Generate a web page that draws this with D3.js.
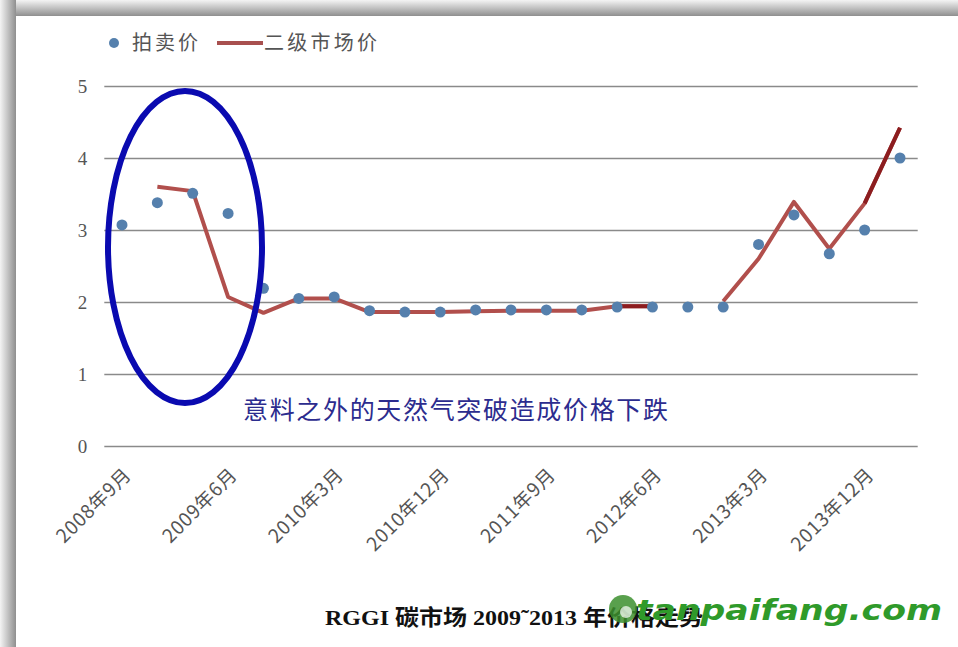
<!DOCTYPE html>
<html>
<head>
<meta charset="utf-8">
<script src="https://cdn.jsdelivr.net/npm/d3@7"></script>
<style>
  body { margin: 0; background: #fff; }
  svg { display: block; }
</style>
</head>
<body>
<div id="chart"></div>
<script>
let width = 958;
let height = 647;

// quarterly auction dates
const dates = [
  "2008年9月", "2008年12月", "2009年3月", "2009年6月", "2009年9月", "2009年12月",
  "2010年3月", "2010年6月", "2010年9月", "2010年12月", "2011年3月", "2011年6月",
  "2011年9月", "2011年12月", "2012年3月", "2012年6月", "2012年9月", "2012年12月",
  "2013年3月", "2013年6月", "2013年9月", "2013年12月", "2014年3月"
];
const tickLabels = ["2008年9月", "2009年6月", "2010年3月", "2010年12月",
  "2011年9月", "2012年6月", "2013年3月", "2013年12月"];

// 拍卖价
const auction = [3.07, 3.38, 3.51, 3.23, 2.19, 2.05, 2.07, 1.88, 1.86, 1.86, 1.89, 1.89,
  1.89, 1.89, 1.93, 1.93, 1.93, 1.93, 2.80, 3.21, 2.67, 3.00, 4.00];
// 二级市场价 (null = no value)
const secondary = [null, 3.60, 3.54, 2.07, 1.85, 2.05, 2.05, 1.86, 1.86, 1.86, 1.87, 1.88,
  1.88, 1.88, 1.94, 1.94, null, 2.01, 2.60, 3.39, 2.74, 3.37, 4.42];
// segments drawn darker in the picture (index pairs)
const darkSegments = [[14, 15], [21, 22]];

const yTicks = [0, 1, 2, 3, 4, 5];

let svg = d3.select("#chart").append("svg")
  .attr("width", width)
  .attr("height", height);

// frame shadow on the left and top edges
let defs = svg.append("defs");
let gl = defs.append("linearGradient").attr("id", "shadeL").attr("x1", 0).attr("x2", 1).attr("y1", 0).attr("y2", 0);
gl.append("stop").attr("offset", "0%").attr("stop-color", "#f4f4f4");
gl.append("stop").attr("offset", "100%").attr("stop-color", "#8f8f8f");
let gt = defs.append("linearGradient").attr("id", "shadeT").attr("x1", 0).attr("x2", 0).attr("y1", 0).attr("y2", 1);
gt.append("stop").attr("offset", "0%").attr("stop-color", "#f4f4f4");
gt.append("stop").attr("offset", "100%").attr("stop-color", "#8f8f8f");

svg.append("rect").attr("width", width).attr("height", height).attr("fill", "#fff");
svg.append("rect").attr("x", 0).attr("y", 0).attr("width", width).attr("height", 16).attr("fill", "url(#shadeT)");
svg.append("rect").attr("x", 0).attr("y", 0).attr("width", 16).attr("height", height).attr("fill", "url(#shadeL)");

let x = d3.scalePoint().domain(dates).range([104.3, 917.7]).padding(0.5);
let y = d3.scaleLinear().domain([0, 5]).range([446, 86]);

// gridlines + y labels
let yAxis = svg.append("g")
  .attr("transform", "translate(104.3,0)")
  .call(d3.axisLeft(y).tickValues(yTicks).tickFormat(d3.format("d"))
    .tickSize(-(917.7 - 104.3)).tickPadding(17));
yAxis.select(".domain").remove();
yAxis.selectAll(".tick line").attr("stroke", "#8a8a8a").attr("stroke-width", 1.3);
yAxis.selectAll(".tick text")
  .attr("fill", "#555")
  .style("font-family", "'Liberation Serif', 'DejaVu Serif', serif")
  .style("font-size", "19px");

// x labels
let xAxis = svg.append("g")
  .attr("transform", "translate(0,446)")
  .call(d3.axisBottom(x).tickValues(tickLabels).tickSize(0));
xAxis.select(".domain").remove();
xAxis.selectAll(".tick text")
  .attr("fill", "#555")
  .style("font-family", "'Noto Sans CJK SC', sans-serif")
  .style("font-size", "19px")
  .style("letter-spacing", "0.8px")
  .attr("text-anchor", "end")
  .attr("dy", 0)
  .attr("y", 0)
  .attr("transform", "translate(10,30) rotate(-45)");

// secondary market line
let line = d3.line()
  .defined(d => d.v !== null)
  .x(d => x(d.date))
  .y(d => y(d.v));

let secData = dates.map((d, i) => ({ date: d, v: secondary[i] }));

svg.append("path")
  .datum(secData)
  .attr("fill", "none")
  .attr("stroke", "#b14f4c")
  .attr("stroke-width", 4)
  .attr("stroke-linejoin", "round")
  .attr("d", line);

svg.append("g").selectAll("path")
  .data(darkSegments)
  .enter().append("path")
  .attr("fill", "none")
  .attr("stroke", "#8c1d1f")
  .attr("stroke-width", 4)
  .attr("d", s => line([secData[s[0]], secData[s[1]]]));

// auction points
svg.append("g").selectAll("circle")
  .data(auction)
  .enter().append("circle")
  .attr("cx", (d, i) => x(dates[i]))
  .attr("cy", d => y(d))
  .attr("r", 5.5)
  .attr("fill", "#5580ad");

// legend
let legend = svg.append("g")
  .style("font-family", "'Noto Sans CJK SC', sans-serif")
  .style("font-size", "20px")
  .attr("fill", "#555");
legend.append("circle").attr("cx", 114).attr("cy", 43).attr("r", 5).attr("fill", "#5580ad");
legend.append("text").attr("x", 132).attr("y", 50).attr("textLength", 66).attr("lengthAdjust", "spacing").text("拍卖价");
legend.append("line").attr("x1", 217).attr("x2", 263).attr("y1", 43).attr("y2", 43)
  .attr("stroke", "#a8504f").attr("stroke-width", 4);
legend.append("text").attr("x", 264).attr("y", 50).attr("textLength", 113).attr("lengthAdjust", "spacing").text("二级市场价");

// annotation ellipse + note
svg.append("ellipse")
  .attr("cx", 185).attr("cy", 247).attr("rx", 77).attr("ry", 156)
  .attr("fill", "none").attr("stroke", "#0a0ab0").attr("stroke-width", 6);

svg.append("text")
  .attr("x", 243).attr("y", 419)
  .attr("textLength", 425).attr("lengthAdjust", "spacing")
  .attr("fill", "#2c2c8e")
  .style("font-family", "'Noto Sans CJK SC', sans-serif")
  .style("font-size", "25px")
  .text("意料之外的天然气突破造成价格下跌");

// caption
svg.append("text")
  .attr("x", 325).attr("y", 625)
  .attr("fill", "#111")
  .attr("textLength", 378).attr("lengthAdjust", "spacingAndGlyphs")
  .style("font-family", "'Liberation Serif', 'Noto Sans CJK SC', serif")
  .style("font-weight", "bold")
  .style("font-size", "22px")
  .text("RGGI 碳市场 2009˜2013 年价格走势");

// watermark
let wm = svg.append("g");
wm.append("circle").attr("cx", 623).attr("cy", 609).attr("r", 14).attr("fill", "#3c8f2e").attr("opacity", 0.85);
wm.append("circle").attr("cx", 626).attr("cy", 612).attr("r", 6).attr("fill", "#fff").attr("opacity", 0.7);
wm.append("text")
  .attr("x", 636).attr("y", 620)
  .attr("fill", "#2f9a2a")
  .style("font-family", "'DejaVu Sans', sans-serif")
  .style("font-weight", "bold")
  .style("font-style", "italic")
  .style("font-size", "28px")
  .attr("textLength", 306).attr("lengthAdjust", "spacingAndGlyphs")
  .text("tanpaifang.com");
</script>
</body>
</html>
